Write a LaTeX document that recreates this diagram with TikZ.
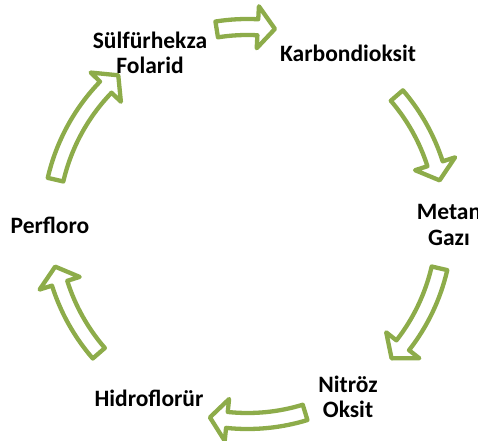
\documentclass[tikz,border=0pt]{standalone}
\usepackage{fontspec}
\setmainfont{Carlito}
\definecolor{arrgreen}{RGB}{141,172,74}
% curved block arrow along the cycle: #1 start angle, #2 tip angle (clockwise)
\newcommand\cycarrow[2]{%
  \draw[cyc] ([shift={(#1:205bp)}]c) arc[start angle=#1, end angle=#2+5, radius=205bp]
    -- ([shift={(#2+5:218bp)}]c) -- ([shift={(#2:197bp)}]c)
    -- ([shift={(#2+5:176bp)}]c) -- ([shift={(#2+5:189bp)}]c)
    arc[start angle=#2+5, end angle=#1, radius=189bp] -- cycle;}
\begin{document}
\begin{tikzpicture}[x=1bp,y=1bp,
  lbl/.style={font=\bfseries\fontsize{23.5bp}{25.6bp}\selectfont, align=center, inner sep=0pt, text=black},
  cyc/.style={draw=arrgreen, line width=4.3bp, fill=white, line join=round}]
\useasboundingbox (0,0) rectangle (478,441);
\coordinate (c) at (247.5,217);
\cycarrow{99}{82}
\cycarrow{40.7}{12.8}
\cycarrow{-13}{-43}
\cycarrow{-73}{-101}
\cycarrow{221}{192.5}
\cycarrow{167}{131}
\node[lbl] (sulf) at (150,388) {Sülfürhekza\\Folarid};
\node[lbl] (karb) at (348,388) {Karbondioksit};
\node[lbl] (metan) at (449,216) {Metan\\Gazı};
\node[lbl] (nitroz) at (348,44) {Nitröz\\Oksit};
\node[lbl] (hidro) at (149,43) {Hidroflorür};
\node[lbl] (perf) at (50,216) {Perfloro};
\end{tikzpicture}
\end{document}
